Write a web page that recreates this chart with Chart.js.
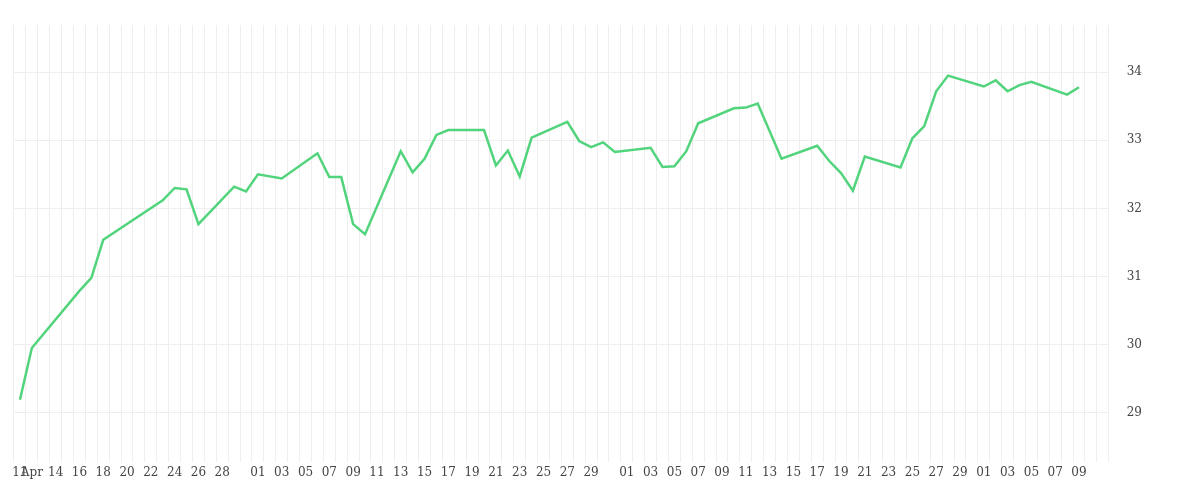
<!DOCTYPE html>
<html><head><meta charset="utf-8">
<script src="https://cdn.jsdelivr.net/npm/chart.js@4/dist/chart.umd.min.js"></script>
<style>html,body{margin:0;padding:0;background:#fff}#w{width:1200px;height:500px}</style>
</head><body><div id="w"><canvas id="c"></canvas></div>
<script>
// one category per day, Apr 11 .. Jul 11; '' = label hidden
const tickLabels = [
 '11','Apr','','14','','16','','18','','20','','22','','24','','26','','28','','',
 '01','','03','','05','','07','','09','','11','','13','','15','','17','','19','','21','','23','','25','','27','','29','','',
 '01','','03','','05','','07','','09','','11','','13','','15','','17','','19','','21','','23','','25','','27','','29','',
 '01','','03','','05','','07','','09','',''
];
const seriesValues = [
 29.19,29.95,null,null,null,30.79,30.98,31.54,null,null,null,null,32.12,32.30,32.28,31.77,null,null,32.32,32.25,
 32.50,null,32.44,null,null,32.81,32.46,32.46,31.77,31.62,null,null,32.84,32.53,32.73,33.08,33.15,null,null,33.15,
 32.63,32.85,32.47,33.04,null,null,33.27,32.99,32.90,32.97,32.83,
 null,null,32.89,32.61,32.62,32.84,33.25,null,null,33.47,33.48,33.54,null,32.73,null,null,32.92,32.70,32.52,32.26,
 32.76,null,null,32.60,33.03,33.21,33.72,33.95,null,null,
 33.79,33.88,33.72,33.81,33.86,null,null,33.67,33.78,null,null
];
const yTicks = [29,30,31,32,33,34];
const font = {family:'"DejaVu Serif","Liberation Serif",serif', size:12};
new Chart(document.getElementById('c'), {
  type:'line',
  data:{labels:tickLabels, datasets:[{data:seriesValues, borderColor:'#52d47c', borderWidth:2.5,
    pointRadius:0, spanGaps:true, tension:0, fill:false}]},
  options:{responsive:true, maintainAspectRatio:false, animation:false,
    layout:{padding:{left:14,top:0,right:40,bottom:16}},
    plugins:{legend:{display:false}, tooltip:{enabled:false}},
    scales:{
      x:{offset:true, grid:{offset:true, color:'#eeeeee', tickLength:10, tickColor:'#eeeeee'}, border:{display:false},
         ticks:{autoSkip:false, maxRotation:0, minRotation:0, color:'#444', font, padding:4,
           callback:(v,i)=>tickLabels[i]}},
      y:{position:'right', min:28.43, max:34.69, border:{display:false},
         afterBuildTicks:(ax)=>{ax.ticks = yTicks.map(v=>({value:v}));},
         grid:{color:'#eeeeee', drawTicks:false},
         ticks:{color:'#444', font, padding:18}}
    }}
});
</script></body></html>
